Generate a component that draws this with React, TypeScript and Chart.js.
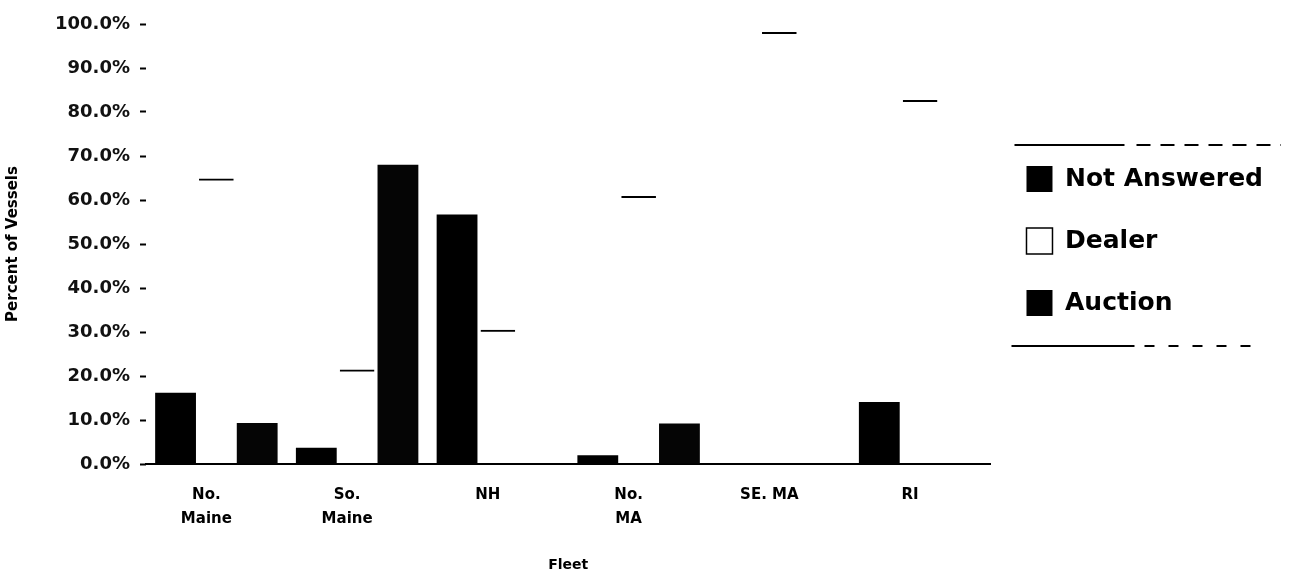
import React, { useEffect, useRef } from "react";
import { Chart, registerables } from "chart.js";

Chart.register(...registerables);

const categories: string[][] = [["No.", "Maine"], ["So.", "Maine"], ["NH"], ["No.", "MA"], ["SE. MA"], ["RI"]];
const notAnswered = [16.2, 3.7, 56.7, 2.0, 0, 14.1];
const dealer = [64.9, 21.5, 30.5, 60.9, 98.2, 82.7];
const auction = [9.3, 68.0, 0, 9.2, 0, 0];
const seriesNames = ["Not Answered", "Dealer", "Auction"];
const yMin = 0;
const yMax = 100;
const yStep = 10;
const xTitle = "Fleet";
const yTitle = "Percent of Vessels";

const FONT = "'DejaVu Sans', sans-serif";

const legendFrame = {
  id: "legendFrame",
  afterDraw(chart: any) {
    const boxes = chart.legend && chart.legend.legendHitBoxes;
    if (!boxes || !boxes.length) return;
    const first = boxes[0];
    const last = boxes[boxes.length - 1];
    const topY = first.top + first.height / 2 - 34;
    const botY = last.top + last.height / 2 + 43;
    const x0 = first.left - 12;
    const x1 = chart.width - 8;
    const ctx = chart.ctx;
    ctx.save();
    ctx.strokeStyle = "#000";
    ctx.lineWidth = 2;
    ctx.beginPath();
    ctx.moveTo(x0, topY);
    ctx.lineTo(x0 + 110, topY);
    ctx.stroke();
    ctx.setLineDash([14, 10]);
    ctx.beginPath();
    ctx.moveTo(x0 + 122, topY);
    ctx.lineTo(x1, topY);
    ctx.stroke();
    ctx.setLineDash([]);
    ctx.beginPath();
    ctx.moveTo(x0 - 3, botY);
    ctx.lineTo(x0 + 120, botY);
    ctx.stroke();
    ctx.setLineDash([10, 14]);
    ctx.beginPath();
    ctx.moveTo(x0 + 130, botY);
    ctx.lineTo(x1 - 20, botY);
    ctx.stroke();
    ctx.restore();
  },
};

export default function App() {
  const ref = useRef<HTMLCanvasElement | null>(null);

  useEffect(() => {
    document.body.style.margin = "0";
    const canvas = ref.current;
    if (!canvas) return;
    const chart = new Chart(canvas, {
      type: "bar",
      data: {
        labels: categories,
        datasets: [
          {
            label: seriesNames[0],
            data: notAnswered,
            backgroundColor: "#000",
            borderWidth: 0,
            barPercentage: 1,
            categoryPercentage: 0.87,
          },
          {
            label: seriesNames[1],
            data: dealer,
            backgroundColor: "rgba(255,255,255,0)",
            borderColor: "#000",
            borderWidth: { top: 2, left: 0, right: 0, bottom: 0 },
            borderSkipped: false,
            barPercentage: 0.85,
            categoryPercentage: 0.87,
          },
          {
            label: seriesNames[2],
            data: auction,
            backgroundColor: "#050505",
            borderWidth: 0,
            barPercentage: 1,
            categoryPercentage: 0.87,
          },
        ],
      },
      options: {
        animation: false,
        responsive: true,
        maintainAspectRatio: false,
        layout: { padding: { top: 24, left: 0, right: 16, bottom: 0 } },
        plugins: {
          tooltip: { enabled: false },
          legend: {
            position: "right",
            align: "start",
            title: {
              display: true,
              text: " ",
              font: { family: FONT, size: 10 },
              padding: { top: 47, bottom: 47 },
            },
            labels: {
              font: { family: FONT, size: 25, weight: "bold" },
              color: "#000",
              boxWidth: 26,
              boxHeight: 26,
              padding: 36,
              generateLabels: (c: any) => {
                const items = Chart.defaults.plugins.legend.labels.generateLabels(c);
                items.forEach((it: any, i: number) => {
                  if (i === 1) {
                    it.fillStyle = "#fff";
                    it.strokeStyle = "#000";
                    it.lineWidth = 1.5;
                  } else {
                    it.fillStyle = "#000";
                    it.strokeStyle = "#000";
                    it.lineWidth = 0;
                  }
                });
                return items;
              },
            },
          },
        },
        scales: {
          x: {
            type: "category",
            afterFit: (s: any) => {
              s.height = 112;
            },
            grid: { display: true, drawOnChartArea: false, drawTicks: false },
            border: { display: true, color: "#000", width: 2 },
            ticks: {
              font: { family: FONT, size: 15, weight: "bold", lineHeight: 1.6 },
              color: "#000",
              padding: 19,
              labelOffset: -10,
              maxRotation: 0,
              autoSkip: false,
            },
            title: {
              display: true,
              text: xTitle,
              font: { family: FONT, size: 14, weight: "bold" },
              color: "#000",
              padding: { top: 0, bottom: 2 },
            },
          },
          y: {
            min: yMin,
            max: yMax,
            afterFit: (s: any) => {
              s.width = 146;
            },
            grid: { display: true, drawOnChartArea: false, drawTicks: true, tickLength: 6, tickWidth: 2, tickColor: "#000" },
            border: { display: false },
            ticks: {
              stepSize: yStep,
              font: { family: FONT, size: 18, weight: "bold" },
              color: "#111",
              padding: 10,
              callback: (v: any) => Number(v).toFixed(1) + "%",
            },
            title: {
              display: true,
              text: yTitle,
              font: { family: FONT, size: 15, weight: "bold" },
              color: "#000",
              padding: { top: 4, bottom: 0 },
            },
          },
        },
      },
      plugins: [legendFrame],
    } as any);
    return () => chart.destroy();
  }, []);

  return (
    <div style={{ width: 1289, height: 576, position: "relative", background: "#fff" }}>
      <canvas ref={ref} />
    </div>
  );
}
